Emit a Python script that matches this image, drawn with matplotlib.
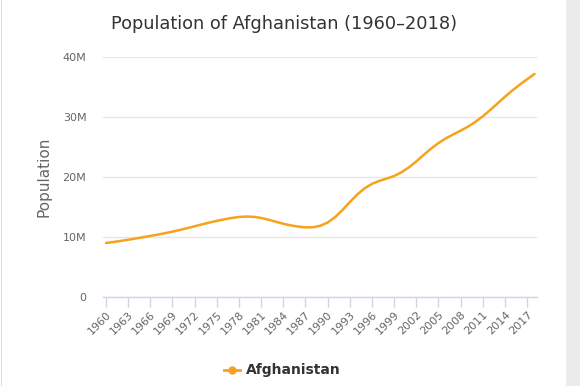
import matplotlib
matplotlib.use("Agg")
import matplotlib.pyplot as plt
from matplotlib.patches import Rectangle
from matplotlib.lines import Line2D
import numpy as np

years = list(range(1960, 2019))
population = [8.996, 9.169, 9.351, 9.543, 9.745, 9.956, 10.174, 10.400, 10.637, 10.894,
              11.173, 11.475, 11.791, 12.108, 12.412, 12.689, 12.943, 13.171, 13.341, 13.412,
              13.357, 13.171, 12.882, 12.537, 12.204, 11.938, 11.736, 11.604, 11.618, 11.868,
              12.412, 13.299, 14.486, 15.817, 17.076, 18.111, 18.853, 19.357, 19.738, 20.170,
              20.780, 21.607, 22.601, 23.681, 24.727, 25.654, 26.433, 27.101, 27.722, 28.394,
              29.186, 30.117, 31.161, 32.270, 33.371, 34.414, 35.383, 36.296, 37.172]
population = [p * 1e6 for p in population]
tick_years = list(range(1960, 2019, 3))
y_ticks = [0, 10e6, 20e6, 30e6, 40e6]
y_labels = ["0", "10M", "20M", "30M", "40M"]

W, H = 580, 386
fig = plt.figure(figsize=(W / 100, H / 100), dpi=100)
fig.patch.set_facecolor("white")

# right gray strip and left border
fig.patches.append(Rectangle((566 / W, 0), 1 - 566 / W, 1, transform=fig.transFigure,
                             facecolor="#ececec", edgecolor="none", zorder=0))
fig.patches.append(Rectangle((0.5 / W, 0), 1.2 / W, 1, transform=fig.transFigure,
                             facecolor="#dcdcdc", edgecolor="none", zorder=0))

left, right, top, bottom = 103, 537, 57, 297
ax = fig.add_axes([left / W, 1 - bottom / H, (right - left) / W, (bottom - top) / H])
ax.set_facecolor("white")

color = "#f7a21b"
ax.plot(years, population, color=color, lw=1.8, solid_capstyle="round", zorder=3)

px_per_year = (534.5 - 106) / 58
ax.set_xlim(1960 - 3 / px_per_year, 2018 + 2.5 / px_per_year)
ax.set_ylim(0, 40e6)

ax.set_yticks(y_ticks)
ax.set_yticklabels(y_labels)
ax.set_xticks(tick_years)
ax.set_xticklabels([str(y) for y in tick_years], rotation=45, ha="right",
                   rotation_mode="anchor")

ax.grid(axis="y", color="#e6e6e6", lw=1)
ax.set_axisbelow(True)
for s in ["top", "right", "left"]:
    ax.spines[s].set_visible(False)
ax.spines["bottom"].set_color("#ccd6eb")
ax.spines["bottom"].set_linewidth(1)

ax.tick_params(axis="y", length=0, pad=12, labelsize=8, labelcolor="#666666")
ax.tick_params(axis="x", length=7, width=1, color="#ccd6eb", pad=2, labelsize=8,
               labelcolor="#666666")

ax.set_ylabel("Population", fontsize=11, color="#666666", labelpad=8)

fig.text(284 / W, 1 - 24 / H, "Population of Afghanistan (1960\u20132018)",
         ha="center", va="center", fontsize=12.8, color="#333333")

# legend
ly = 1 - 370 / H
fig.add_artist(Line2D([224 / W, 240 / W], [ly, ly], transform=fig.transFigure,
                      color=color, lw=2))
fig.add_artist(Line2D([232 / W], [ly], transform=fig.transFigure, marker="o",
                      markersize=5, color=color, lw=0))
fig.text(246 / W, ly, "Afghanistan", ha="left", va="center", fontsize=10,
         fontweight="bold", color="#333333")

fig.savefig("out.png", dpi=100)
